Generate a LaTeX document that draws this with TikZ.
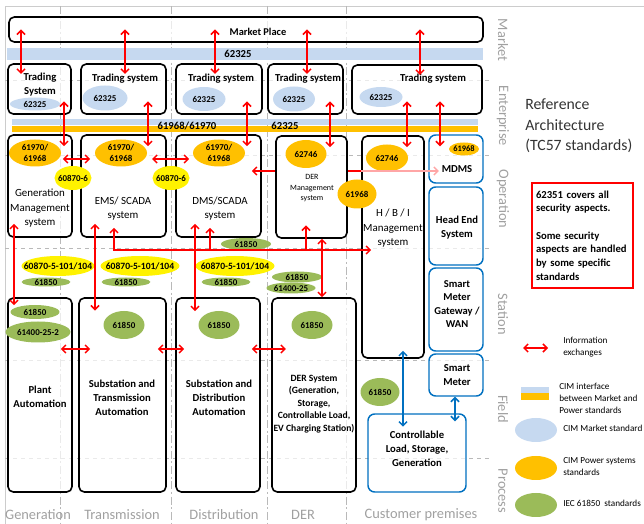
\documentclass[tikz,border=0pt]{standalone}
\usepackage{fontspec}
\setmainfont{Carlito}
\usetikzlibrary{arrows.meta,positioning,shapes.geometric,fit}

\definecolor{cimblue}{RGB}{198,217,240}
\definecolor{cimgold}{RGB}{255,192,0}
\definecolor{iecgreen}{RGB}{155,187,89}
\definecolor{custblue}{RGB}{0,112,192}
\definecolor{zonegray}{RGB}{160,160,160}

\begin{document}
\begin{tikzpicture}[x=0.75pt, y=-0.75pt,
    >={Straight Barb[length=3pt,width=6pt]},
    sysbox/.style={draw, line width=1.2pt, rounded corners=4pt, fill=white, fill opacity=0.7, inner sep=0pt, fit={#1}},
    custbox/.style={draw=custblue, line width=1.1pt, rounded corners=5pt, fill=white, fill opacity=0.7, inner sep=0pt, fit={#1}},
    cimbar/.style={inner sep=0pt, fit={#1}},
    ell/.style 2 args={ellipse, inner sep=0pt, minimum width=#1*0.75pt, minimum height=#2*0.75pt},
    std/.style={font=\bfseries\fontsize{6.7}{8.3}\selectfont, align=center, inner sep=0pt},
    stdl/.style={font=\bfseries\fontsize{7.2}{8.3}\selectfont, inner sep=0pt},
    boxtitle/.style={font=\bfseries\fontsize{8}{10.5}\selectfont, align=center, inner sep=0pt},
    boxtext/.style={font=\fontsize{8.2}{10.9}\selectfont, align=center, inner sep=0pt},
    legtext/.style={font=\fontsize{6.9}{9}\selectfont, align=left, anchor=west, inner sep=0pt},
    zone/.style={font=\fontsize{10.8}{12}\selectfont, text=zonegray, inner sep=0pt},
    zoneline/.style={gray!55, line width=0.6pt},
    info/.style={red, line width=1.1pt, <->},
    infoblue/.style={custblue, line width=1.1pt, <->}]
  \useasboundingbox (0,0) rectangle (644,524);

  % zones
  \draw[gray!40] (5,524) -- (5,6) -- (644,6);
  \foreach \x in {60,171,267,346}
    \draw[zoneline, dash pattern=on 6pt off 2pt on 1.5pt off 2pt] (\x,6) -- (\x,524);
  \foreach \y in {80,155,248,360,458}
    \draw[zoneline, dashed] (5,\y) -- (490,\y);
  \foreach \z/\y in {Market/40,Enterprise/116,Operation/199,Station/314,Field/409,Process/491}
    \node[zone, rotate=-90] (z\z) at (503,\y) {\z};
  \foreach \z/\x in {Generation/38,Transmission/122,Distribution/224,DER/303}
    \node[zone] (d\z) at (\x,515) {\z};
  \node[zone] (dCustomer) at (421,515) {Customer premises};

  % CIM bars
  \node[cimbar={(7,48)(483,60)}, fill=cimblue] (mktbar) {};
  \node[boxtitle] (mktbarl) at (238,54) {62325};
  \node[cimbar={(12,119)(478,125)}, fill=cimblue] (cimtop) {};
  \node[cimbar={(12,126)(478,132)}, fill=cimgold] (cimbot) {};
  \node[boxtitle] (cimlbl) at (187,126) {61968/61970};
  \node[boxtitle] (cimlbl2) at (285,126) {62325};

  % market and enterprise
  \node[sysbox={(9,17)(483,42)}] (mp) {};
  \node[font=\bfseries\fontsize{7.8}{9}\selectfont, inner sep=0pt] (mpt) at (258,32) {Market Place};
  \node[sysbox={(8,64)(71,114)}] (ts1) {};
  \node[sysbox={(81,64)(166,114)}] (ts2) {};
  \node[sysbox={(176,64)(262,114)}] (ts3) {};
  \node[sysbox={(268,64)(343,114)}] (ts4) {};
  \node[sysbox={(352,65)(482,114)}] (ts5) {};
  \node[boxtitle] (tst1) at (40,84.5) {Trading\\System};
  \foreach \n/\x in {2/125,3/221,4/308,5/433}
    \node[boxtitle] (tst\n) at (\x,79) {Trading system};
  \foreach \n/\x/\y/\w/\h in {1/35/104/50/13,2/105/98/45/25,3/204/99/43/24,4/294/99/42/25,5/381/97/43/20}
    \node[ell={\w}{\h}, fill=cimblue, label={[std]center:62325}] (tse\n) at (\x,\y) {};

  % operation
  \node[sysbox={(8,135)(72,237)}] (gms) {};
  \node[sysbox={(81,135)(166,237)}] (ems) {};
  \node[sysbox={(176,135)(261,237)}] (dms) {};
  \node[sysbox={(276,136)(347,238)}] (derm) {};
  \node[sysbox={(362,136)(424,358)}] (hbi) {};
  \node[custbox={(429,135)(483,183)}] (mdms) {};
  \node[custbox={(429,187)(483,265)}] (hes) {};
  \node[custbox={(429,268)(483,351)}] (smg) {};
  \node[custbox={(429,354)(483,396)}] (sm) {};
  \node[custbox={(368,414)(466,492)}] (clsg) {};
  \node[boxtext] (gmst) at (40,208.5) {Generation\\Management\\system};
  \node[boxtext] (emst) at (123,208.5) {EMS/ SCADA\\system};
  \node[boxtext] (dmst) at (220,208.5) {DMS/SCADA\\system};
  \node[font=\fontsize{6}{7.9}\selectfont, align=center, inner sep=0pt] (dermt) at (312,188.5) {DER\\Management\\system};
  \node[boxtext] (hbit) at (393,228.5) {H / B / I\\Management\\system};
  \node[boxtitle] (mdmst) at (457,169) {MDMS};
  \node[boxtitle] (hest) at (457,227.5) {Head End\\System};
  \node[boxtitle, font=\bfseries\fontsize{7.9}{10}\selectfont] (smgt) at (457,304) {Smart\\Meter\\Gateway /\\WAN};
  \node[boxtitle] (smt) at (457,375.5) {Smart\\Meter};
  \node[boxtitle] (clsgt) at (417,449) {Controllable\\Load, Storage,\\Generation};

  % station
  \node[sysbox={(8,298)(72,492)}] (pa) {};
  \node[sysbox={(79,298)(166,492)}] (sta) {};
  \node[sysbox={(176,298)(260,492)}] (sda) {};
  \node[sysbox={(272,298)(356,492)}] (ders) {};
  \node[boxtitle] (pat) at (40,396.5) {Plant\\Automation};
  \node[boxtitle] (stat) at (122,398) {Substation and\\Transmission\\Automation};
  \node[boxtitle] (sdat) at (219,398) {Substation and\\Distribution\\Automation};
  \node[boxtitle, font=\bfseries\fontsize{7.2}{9.4}\selectfont] (derst) at (314,404) {DER System\\(Generation,\\Storage,\\Controllable Load,\\EV Charging Station)};

  % standards
  \foreach \n/\x in {1/35,2/121,3/219}
    \node[ell={52}{27}, fill=cimgold, label={[std]center:61970/\\61968}] (pwr\n) at (\x,153) {};
  \node[ell={41}{28}, fill=cimgold, label={[std]center:62746}] (pwr4) at (306,154) {};
  \node[ell={42}{27}, fill=cimgold, label={[std]center:62746}] (pwr5) at (387,158) {};
  \node[ell={39}{29}, fill=cimgold, label={[std]center:61968}] (pwr6) at (357,194) {};
  \node[ell={30}{13}, fill=cimgold, label={[std, font=\bfseries\fontsize{6.3}{7}\selectfont]center:61968}] (pwr7) at (464,149) {};
  \foreach \n/\x in {1/73,2/171}
    \node[ell={37}{24}, fill=yellow, label={[std]center:60870-6}] (tase\n) at (\x,178) {};
  \foreach \n/\x/\w in {1/58/73,2/140/79,3/235/79}
    \node[ell={\w}{20}, fill=yellow, label={[stdl]center:60870-5-101/104}] (iec\n) at (\x,266) {};
  \foreach \n/\x in {1/46,2/126,3/226}
    \node[ell={49}{9}, fill=iecgreen, label={[std]center:61850}] (gr\n) at (\x,282) {};
  \node[ell={50}{12}, fill=iecgreen, label={[std]center:61850}] (gr4) at (246,244) {};
  \node[ell={50}{11}, fill=iecgreen, label={[std]center:61850}] (gr5) at (297,277) {};
  \node[ell={49}{11}, fill=iecgreen, label={[std]center:61400-25}] (gr6) at (291,288) {};
  \node[ell={49}{14}, fill=iecgreen, label={[std]center:61850}] (gr7) at (35,312) {};
  \node[ell={65}{21}, fill=iecgreen, label={[std]center:61400-25-2}] (gr8) at (38,332) {};
  \foreach \n/\x in {9/124,10/219,11/312}
    \node[ell={41}{28}, fill=iecgreen, label={[std]center:61850}] (gr\n) at (\x,325) {};
  \node[ell={39}{28}, fill=iecgreen, label={[std]center:61850}] (gr12) at (380,392) {};

  % information exchanges
  \foreach \x/\t in {21/ts1,125/ts2,215/ts3,307/ts4,420/ts5}
    \draw[info] (mp.center -| \x,0) -- ([yshift=-8pt]\t.north -| \x,0);
  \foreach \x/\t/\o in {64/ts1/gms,148/ts2/ems,247/ts3/dms,330/ts4/derm,407/ts5/hbi,440/ts5/mdms}
    \draw[info] ([yshift=10pt]\t.south -| \x,0) -- ([yshift=-9pt]\o.north -| \x,0);
  \draw[info] ([xshift=-7.5pt]gms.east |- 0,159) -- ([xshift=7.5pt]ems.west |- 0,159);
  \draw[info] ([xshift=-11pt]ems.east |- 0,159) -- ([xshift=10.5pt]dms.west |- 0,159);
  \draw[info, ->] (derm.west |- 0,171) -- ([xshift=-7.5pt]dms.east |- 0,171);
  \draw[red, line width=1.1pt] (derm.east |- 0,171) -- (hbi.west |- 0,171);
  \draw[red!35, line width=1.1pt, ->] (hbi.west |- 0,171) -- ([xshift=8pt]mdms.west |- 0,171);
  \draw[info] ([yshift=10.5pt]gms.south -| 14,0) -- ([yshift=-6pt]pa.north -| 14,0);
  \draw[info] ([yshift=10.5pt]ems.south -| 95,0) -- ([yshift=-10pt]sta.north -| 95,0);
  \draw[info] ([yshift=10.5pt]dms.south -| 195,0) -- ([yshift=-10.5pt]sda.north -| 195,0);
  \draw[info] (derm.south -| 322,0) -- (ders.north -| 322,0);
  \coordinate (bus) at (114,250);
  \draw[info] ([yshift=7.5pt]ems.south -| bus) |- ([xshift=7.5pt]hbi.west |- bus);
  \draw[info, ->] (bus -| 210,0) -- ([yshift=7.5pt]dms.south -| 210,0);
  \draw[info, ->] (bus -| 306,0) -- ([yshift=10pt]derm.south -| 306,0);
  \draw[info] ([xshift=-9pt]pa.east |- 0,349) -- ([xshift=9pt]sta.west |- 0,349);
  \draw[info] ([xshift=-6.75pt]sta.east |- 0,349) -- ([xshift=6.75pt]sda.west |- 0,349);
  \draw[info] ([xshift=-6.75pt]sda.east |- 0,349) -- ([xshift=11pt]ders.west |- 0,349);
  \draw[infoblue] ([yshift=6pt]hbi.south -| 403,0) -- ([yshift=-10pt]clsg.north -| 403,0);
  \draw[infoblue] (sm.south -| 455,0) -- ([yshift=-6pt]clsg.north -| 455,0);

  % legend
  \node[font=\fontsize{11.8}{15.4}\selectfont, align=left, anchor=west, inner sep=0pt, text=black!80] (reftitle) at (525,126) {Reference\\Architecture\\(TC57 standards)};
  \node[draw=red, line width=1.1pt, minimum width=75.75pt, minimum height=78.75pt, text width=69.75pt, align=left, inner sep=0pt, font=\bfseries\fontsize{8}{10.3}\selectfont] (secnote) at (582.5,235.5) {62351 covers all\\security aspects.\\[10.3pt]Some security\\aspects are handled\\by some specific\\standards};
  \coordinate (legl) at (523,348);
  \coordinate (legr) at (548,348);
  \draw[info] (legl) -- (legr);
  \node[legtext] (leginfo) at (563,347) {Information\\exchanges};
  \node[cimbar={(521,387)(549,393)}, fill=cimblue] (legbar1) {};
  \node[cimbar={(521,393)(549,400)}, fill=cimgold] (legbar2) {};
  \node[legtext] (legcim) at (559,398) {CIM interface\\between Market and\\Power standards};
  \node[ell={42}{24}, fill=cimblue] (legmkt) at (536,430) {};
  \node[legtext] (legmktt) at (563,428) {CIM Market standard};
  \node[ell={42}{24}, fill=cimgold] (legpwr) at (536,468) {};
  \node[legtext] (legpwrt) at (563,467) {CIM Power systems\\standards};
  \node[ell={42}{24}, fill=iecgreen] (legiec) at (536,505) {};
  \node[legtext] (legiect) at (563,503) {IEC 61850\ \ standards};
\end{tikzpicture}
\end{document}
